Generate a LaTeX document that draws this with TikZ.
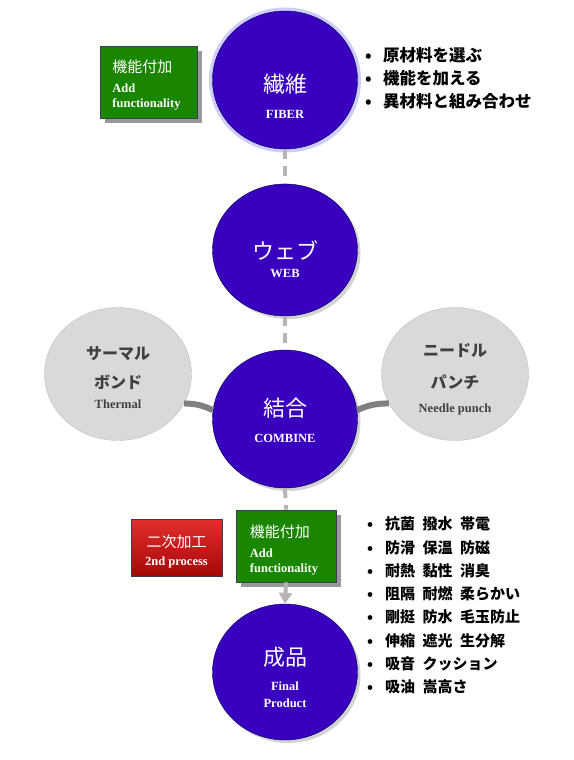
\documentclass[tikz,border=0pt]{standalone}
\usepackage{fontspec}
\setmainfont{Liberation Serif}
\newfontfamily\jp{Noto Sans CJK JP}
\usetikzlibrary{shapes.geometric,shadows,arrows.meta,positioning}

\definecolor{stageblue}{RGB}{58,0,192}
\definecolor{addgreen}{RGB}{26,134,0}
\definecolor{procred}{RGB}{200,18,18}
\definecolor{methodgray}{RGB}{217,217,217}
\definecolor{linkgray}{RGB}{185,180,180}
\definecolor{boxedge}{RGB}{60,60,90}

\tikzset{
  stage/.style={ellipse, fill=stageblue, draw=black!70!blue, minimum width=145pt, minimum height=138pt,
    inner sep=0pt, drop shadow={shadow xshift=3pt, shadow yshift=-3pt, opacity=.35}},
  method/.style={ellipse, fill=methodgray, draw=black!25, minimum width=147pt, minimum height=133pt,
    inner sep=0pt},
  addbox/.style={rectangle, fill=addgreen, draw=boxedge, thick, minimum width=97pt, minimum height=72pt,
    inner sep=0pt, drop shadow={shadow xshift=5pt, shadow yshift=-5pt, fill=black!40, opacity=1}},
  caption/.style={inner sep=0pt, text=white, align=center, font=\fontsize{12.5}{15}\selectfont},
  dashlink/.style={linkgray, line width=4pt, dash pattern=on 10pt off 7pt},
  bondlink/.style={black!50, line width=6pt},
}
\newcommand{\enlab}[1]{{\bfseries #1}}
\newcommand{\jbig}[1]{{\jp\fontsize{22}{15}\selectfont #1}}
\newcommand{\jmid}[1]{{\jp\bfseries\fontsize{16}{15}\selectfont #1}}
\newcommand{\jbox}[1]{{\jp\fontsize{15}{15}\selectfont #1}}

\begin{document}
\begin{tikzpicture}[x=1pt,y=-1pt]
    \useasboundingbox (0,0) rectangle (573,760);

    % stages of the process
    \node[stage, preaction={draw=blue!20, line width=7pt}] (fiber) at (285,80) {};
    \node[stage, minimum height=132pt] (web) at (285,250) {};
    \node[stage] (combine) at (285,419) {};
    \node[stage, minimum height=136pt] (final) at (285,672) {};
    \node[caption] (fibertext) at ([yshift=-16.5pt]fiber.center) {\jbig{繊維}\\[11.5pt]\enlab{FIBER}};
    \node[caption] (webtext) at ([yshift=-9pt]web.center) {\jbig{ウェブ}\\[3.5pt]\enlab{WEB}};
    \node[caption] (combinetext) at ([yshift=-1.5pt]combine.center) {\jbig{結合}\\[11.5pt]\enlab{COMBINE}};
    \node[caption] (finaltext) at ([yshift=-5pt]final.center)
      {\jbig{成品}\\[10pt]\enlab{Final}\\[2pt]\enlab{Product}};

    % bonding methods
    \node[method] (thermal) at (118,374) {};
    \node[method] (needle) at (455,374) {};
    \node[caption, text=black!75] (thermaltext) at ([yshift=-3.5pt]thermal.center)
      {\jmid{サーマル}\\[14pt]\jmid{ボンド}\\[5pt]\enlab{Thermal}};
    \node[caption, text=black!75] (needletext) at ([yshift=-5pt]needle.center)
      {\jmid{ニードル}\\[17pt]\jmid{パンチ}\\[9pt]\enlab{Needle punch}};

    % function boxes
    \node[addbox] (addtop) at (148.5,82) {};
    \node[addbox, minimum width=100pt] (addbot) at (286,546) {};
    \node[rectangle, draw=boxedge, thick, shading=axis, top color={rgb,255:red,228;green,45;blue,45},
      middle color=procred, bottom color={rgb,255:red,165;green,8;blue,8}, minimum width=91pt,
      minimum height=57pt, inner sep=0pt] (second) at (176.5,547.5) {};
    \node[caption, align=left] (addtoptext) at ([xshift=-2pt,yshift=-3.5pt]addtop.center)
      {\jbox{機能付加}\\[5pt]\enlab{Add}\\[0pt]\enlab{functionality}};
    \node[caption, align=left] (addbottext) at ([xshift=-2pt,yshift=-4.5pt]addbot.center)
      {\jbox{機能付加}\\[5pt]\enlab{Add}\\[0pt]\enlab{functionality}};
    \node[caption] (secondtext) at ([yshift=-4pt]second.center) {\jbox{二次加工}\\[3pt]\enlab{2nd process}};

    % links
    \draw[dashlink] (fiber.south) -- (web.north);
    \draw[dashlink] (web.south) -- (combine.north);
    \draw[dashlink] (combine.south) -- (addbot.north);
    \draw[linkgray, line width=4pt, -{Triangle[width=13pt,length=11pt]}] (addbot.south) -- (final.north);
    \draw[bondlink] (thermal.-24) to[bend left=12] (combine.173);
    \draw[bondlink] (combine.7) to[bend left=12] (needle.-156);

    % what each step adds
    \foreach \txt [count=\i] in {原材料を選ぶ, 機能を加える, 異材料と組み合わせ} {
      \node[anchor=west, inner sep=0pt, font=\jp\bfseries\fontsize{16.5}{20}\selectfont] (top\i) at (365,{32+23*\i})
        {\makebox[18pt][l]{\textbullet}\txt};
    }
    \foreach \txt [count=\i] in {抗菌\hspace{.5em}撥水\hspace{.5em}帯電, 防滑\hspace{.5em}保温\hspace{.5em}防磁,
        耐熱\hspace{.5em}黏性\hspace{.5em}消臭, 阻隔\hspace{.5em}耐燃\hspace{.5em}柔らかい,
        剛挺\hspace{.5em}防水\hspace{.5em}毛玉防止, 伸縮\hspace{.5em}遮光\hspace{.5em}生分解,
        吸音\hspace{.5em}クッション, 吸油\hspace{.5em}嵩高さ} {
      \node[anchor=west, inner sep=0pt, font=\jp\bfseries\fontsize{15}{18}\selectfont] (low\i) at (367,{500.7+23.3*\i})
        {\makebox[18pt][l]{\textbullet}\txt};
    }
\end{tikzpicture}
\end{document}
